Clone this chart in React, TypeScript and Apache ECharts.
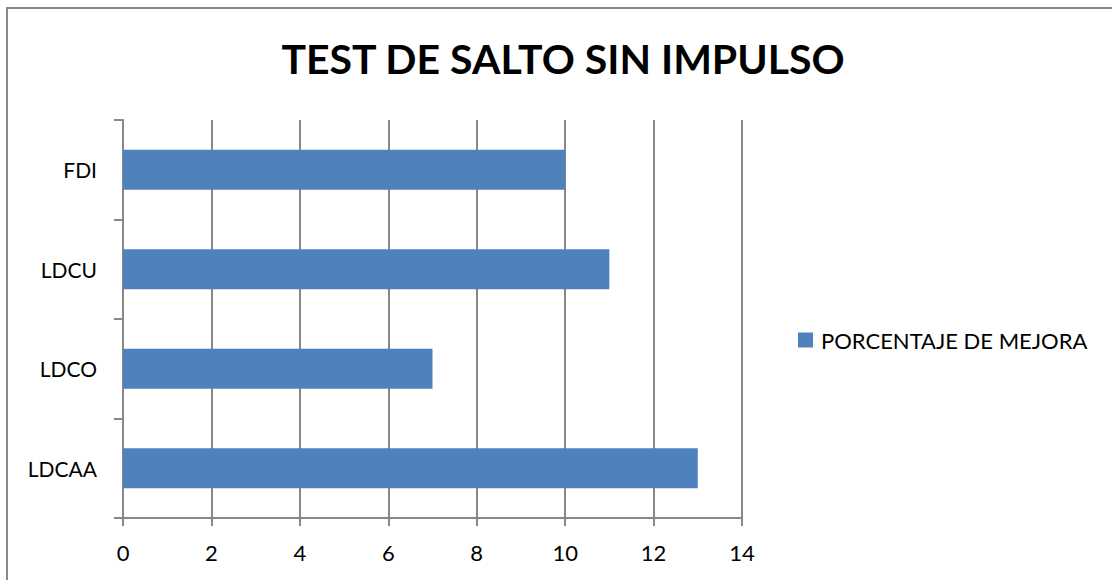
import React, { useEffect, useRef } from "react";
import * as echarts from "echarts";

const categories = ["LDCAA", "LDCO", "LDCU", "FDI"];
const values = [13, 7, 11, 10];
const seriesName = "PORCENTAJE DE MEJORA";
const titleText = "TEST DE SALTO SIN IMPULSO";

export default function App() {
  const ref = useRef<HTMLDivElement>(null);
  useEffect(() => {
    document.body.style.margin = "0";
    const chart = echarts.init(ref.current!, null, { renderer: "svg" });
    const font = "Lato, 'Open Sans', sans-serif";
    chart.setOption({
      animation: false,
      backgroundColor: "#ffffff",
      title: {
        text: titleText,
        left: 563,
        textAlign: "center",
        top: 38,
        padding: 0,
        textStyle: { fontFamily: font, fontSize: 41, fontWeight: "bold", color: "#000" },
      },
      graphic: [
        {
          type: "rect",
          shape: { x: 7, y: 8, width: 1200, height: 700 },
          style: { fill: "none", stroke: "#8a8a8a", lineWidth: 2 },
          z: 100,
        },
      ],
      legend: {
        left: 798,
        top: 329,
        padding: 0,
        icon: "rect",
        itemWidth: 15,
        itemHeight: 15,
        itemGap: 6,
        textStyle: { fontFamily: font, fontSize: 22, color: "#000", padding: [0, 0, 0, 3] },
        data: [seriesName],
      },
      grid: { left: 123, right: 370, top: 120, bottom: 62, containLabel: false },
      xAxis: {
        type: "value",
        min: 0,
        max: 14,
        interval: 2,
        axisLine: { show: true, lineStyle: { color: "#888", width: 2 } },
        axisTick: { show: true, length: 8, lineStyle: { color: "#888", width: 2 } },
        splitLine: { show: true, lineStyle: { color: "#888", width: 2 } },
        axisLabel: { fontFamily: font, fontSize: 22, color: "#000", margin: 23 },
      },
      yAxis: {
        type: "category",
        data: categories,
        axisLine: { show: true, lineStyle: { color: "#888", width: 2 } },
        axisTick: { show: true, length: 9, alignWithLabel: false, lineStyle: { color: "#888", width: 2 } },
        axisLabel: { fontFamily: font, fontSize: 21, color: "#000", margin: 26 },
      },
      series: [
        {
          name: seriesName,
          type: "bar",
          data: values,
          barWidth: 40,
          itemStyle: { color: "#4F81BD" },
        },
      ],
    });
    return () => chart.dispose();
  }, []);
  return <div ref={ref} style={{ width: 1112, height: 580 }} />;
}
